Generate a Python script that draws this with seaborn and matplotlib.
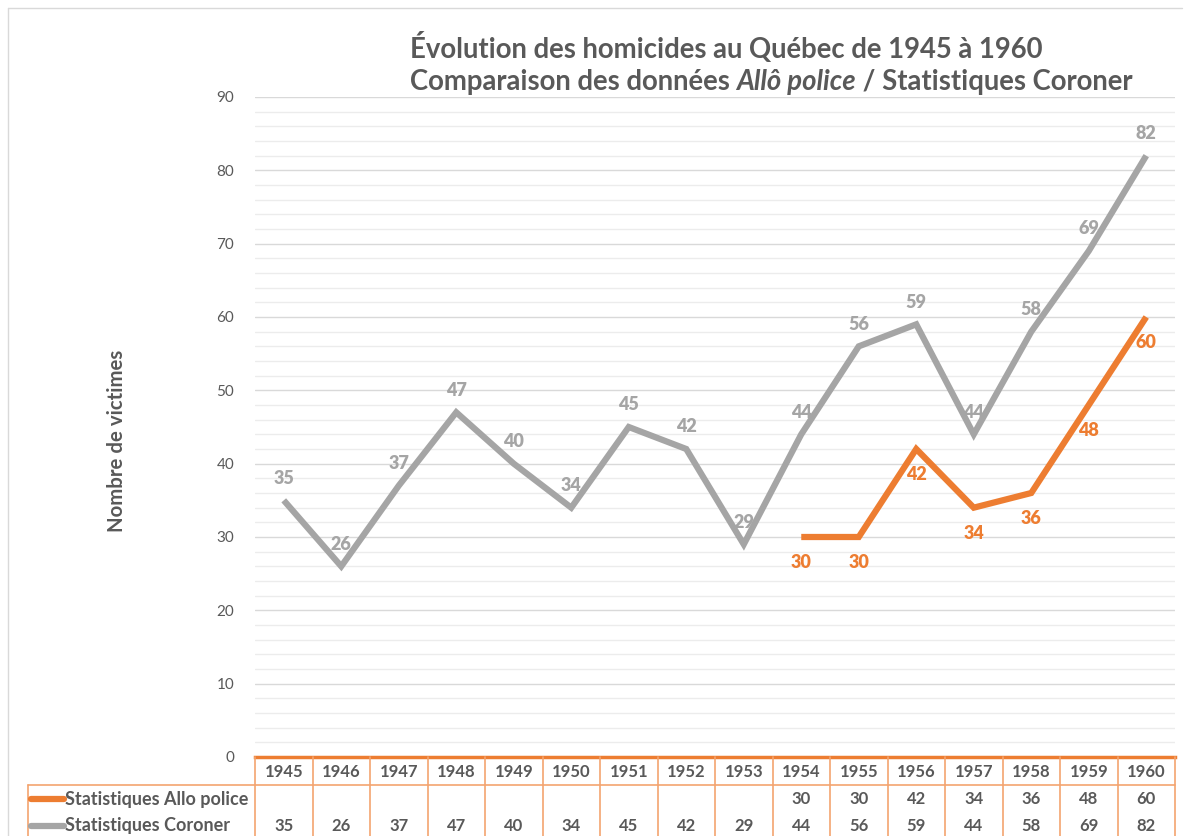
import numpy as np
import pandas as pd
import seaborn as sns
import matplotlib
matplotlib.use("Agg")
import matplotlib.pyplot as plt
from matplotlib.transforms import blended_transform_factory
from matplotlib.lines import Line2D

# ---------------- data ----------------
years = ["1945", "1946", "1947", "1948", "1949", "1950", "1951", "1952",
         "1953", "1954", "1955", "1956", "1957", "1958", "1959", "1960"]
allo_police = [None, None, None, None, None, None, None, None, None,
               30, 30, 42, 34, 36, 48, 60]
coroner = [35, 26, 37, 47, 40, 34, 45, 42, 29, 44, 56, 59, 44, 58, 69, 82]
series_names = ["Statistiques Allo police", "Statistiques Coroner"]
title_line1 = "Évolution des homicides au Québec de 1945 à 1960"
title_line2 = ["Comparaison des données ", "Allô police", " / Statistiques Coroner"]
ylabel = "Nombre de victimes"

ORANGE = "#ED7D31"
GREY = "#A5A5A5"
TXT = "#595959"
TABLE_EDGE = "#F3A46F"

sns.set_theme(style="white")
plt.rcParams["font.family"] = ["Lato", "DejaVu Sans"]

W, H = 1189, 836
fig = plt.figure(figsize=(W / 100, H / 100), dpi=100)
fig.patch.set_facecolor("white")

def fx(px):
    return px / W

def fy(py):
    return 1 - py / H

ax = fig.add_axes([fx(255), fy(757), fx(1175) - fx(255), fy(97) - fy(757)])

rows = []
for i, y in enumerate(years):
    rows.append({"pos": i, "year": y, "series": series_names[0],
                 "value": np.nan if allo_police[i] is None else allo_police[i]})
    rows.append({"pos": i, "year": y, "series": series_names[1], "value": coroner[i]})
df = pd.DataFrame(rows)

palette = {series_names[0]: ORANGE, series_names[1]: GREY}
sns.lineplot(data=df.dropna(), x="pos", y="value", hue="series", palette=palette,
             estimator=None, linewidth=4.5, legend=False, ax=ax, zorder=3)
for l in ax.get_lines():
    l.set_solid_joinstyle("miter")
    l.set_solid_capstyle("butt")

ax.set_xlim(-0.5, len(years) - 0.5)
ax.set_ylim(0, 90)
ax.set_yticks(range(0, 91, 10))
ax.set_yticks(np.arange(0, 91, 2), minor=True)
ax.grid(which="major", axis="y", color="#D9D9D9", linewidth=1)
ax.grid(which="minor", axis="y", color="#ECECEC", linewidth=1)
ax.grid(which="major", axis="x", visible=False)
ax.set_xticks([])
ax.tick_params(axis="y", which="both", length=0, pad=15, labelsize=11, labelcolor=TXT)
ax.set_xlabel("")
ax.set_ylabel("")
for s in ["left", "right", "top"]:
    ax.spines[s].set_visible(False)
ax.spines["bottom"].set_color(ORANGE)
ax.spines["bottom"].set_linewidth(2.5)
ax.spines["bottom"].set_zorder(5)

# data labels
for i, v in enumerate(coroner):
    ax.annotate(str(v), (i, v), xytext=(0, 22), textcoords="offset pixels",
                ha="center", va="center", fontsize=13, fontweight="heavy", color=GREY, zorder=4)
for i, v in enumerate(allo_police):
    if v is None:
        continue
    ax.annotate(str(v), (i, v), xytext=(0, -26), textcoords="offset pixels",
                ha="center", va="center", fontsize=13, fontweight="heavy", color=ORANGE, zorder=4)

# y label
fig.text(fx(117), fy(441), ylabel, rotation=90, ha="center", va="center",
         fontsize=14.7, fontweight="bold", color=TXT)

# title
fig.text(fx(410), fy(47), title_line1, ha="left", va="center", fontsize=19.8,
         fontweight="bold", color=TXT)
fig.canvas.draw()
renderer = fig.canvas.get_renderer()
xcur = fx(410)
for k, part in enumerate(title_line2):
    t = fig.text(xcur, fy(82), part, ha="left", va="center", fontsize=19.8,
                 fontweight="bold", color=TXT, style="italic" if k == 1 else "normal")
    bb = t.get_window_extent(renderer=renderer)
    xcur += bb.width / W

# ---------------- data table ----------------
tr = blended_transform_factory(ax.transData, fig.transFigure)
n = len(years)
ybot = fy(H + 10)
for i in range(n + 1):
    fig.add_artist(Line2D([i - 0.5, i - 0.5], [fy(757), ybot], transform=tr,
                          color=TABLE_EDGE, lw=1.2))
fig.add_artist(Line2D([fx(28), fx(1175)], [fy(785), fy(785)], transform=fig.transFigure,
                      color=TABLE_EDGE, lw=1.2))
fig.add_artist(Line2D([fx(28), fx(28)], [fy(785), ybot], transform=fig.transFigure,
                      color=TABLE_EDGE, lw=1.2))
for i, y in enumerate(years):
    fig.text(i, fy(772), y, transform=tr, ha="center", va="center", fontsize=12,
             fontweight="bold", color=TXT)
    if allo_police[i] is not None:
        fig.text(i, fy(799), str(allo_police[i]), transform=tr, ha="center", va="center",
                 fontsize=12, fontweight="bold", color=TXT)
    fig.text(i, fy(826), str(coroner[i]), transform=tr, ha="center", va="center",
             fontsize=12, fontweight="bold", color=TXT)

for name, yy in zip(series_names, [799, 826]):
    fig.add_artist(Line2D([fx(31), fx(64)], [fy(yy), fy(yy)], transform=fig.transFigure,
                          color=palette[name], lw=4.5, solid_capstyle="round"))
    fig.text(fx(65), fy(yy), name, ha="left", va="center", fontsize=13,
             fontweight="bold", color=TXT)

# outer chart border
fig.add_artist(Line2D([fx(8), fx(1182)], [fy(8), fy(8)], transform=fig.transFigure,
                      color="#D9D9D9", lw=1))
fig.add_artist(Line2D([fx(8), fx(8)], [fy(8), fy(H + 5)], transform=fig.transFigure,
                      color="#D9D9D9", lw=1))

fig.savefig("out.png", dpi=100)
